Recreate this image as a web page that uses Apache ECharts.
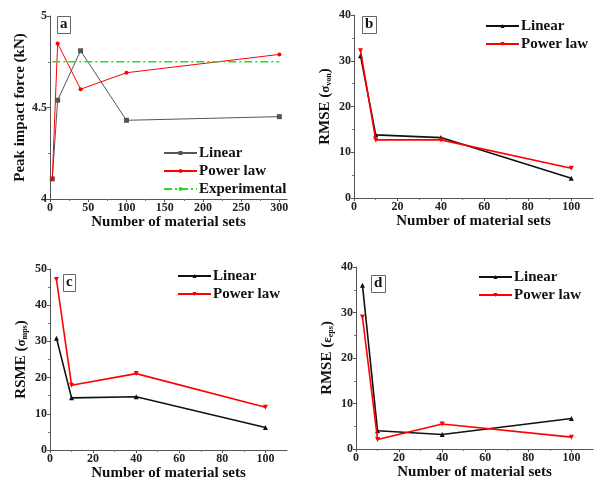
<!DOCTYPE html>
<html>
<head>
<meta charset="utf-8">
<script src="https://cdn.jsdelivr.net/npm/echarts@6/dist/echarts.min.js"></script>
<style>
  html, body { margin: 0; padding: 0; background: #fff; }
  #chart { width: 595px; height: 485px; }
</style>
</head>
<body>
<div id="chart"></div>
<script>
// material set counts
const setsA = [3, 10, 40, 100, 300]
const setsBCD = [3, 10, 40, 100]

// panel a: peak impact force (kN)
const forceLinear = [4.11, 4.54, 4.81, 4.43, 4.45]
const forcePower = [4.11, 4.85, 4.60, 4.69, 4.79]
const forceExperimental = 4.75

// panel b: RMSE (sigma von)
const vonLinear = [31.1, 13.8, 13.2, 4.3]
const vonPower = [32.2, 12.7, 12.7, 6.5]

// panel c: RSME (sigma mps)
const mpsLinear = [30.9, 14.4, 14.7, 6.2]
const mpsPower = [47.1, 17.9, 21.1, 11.8]

// panel d: RMSE (epsilon eps)
const epsLinear = [36.0, 4.0, 3.2, 6.7]
const epsPower = [29.0, 2.1, 5.5, 2.6]

// tick labels
const xTicksA = [0, 50, 100, 150, 200, 250, 300]
const xTicksBCD = [0, 20, 40, 60, 80, 100]
const yTicksA = [4, 4.5, 5]
const yTicks40 = [0, 10, 20, 30, 40]
const yTicks50 = [0, 10, 20, 30, 40, 50]

const font = 'Liberation Serif'
const red = '#ff0000'

const chart = echarts.init(document.getElementById('chart'))

const pairs = (xs, ys) => xs.map((x, i) => [x, ys[i]])

const grids = [
  { left: 50, top: 16, width: 237, height: 183 },
  { left: 354, top: 15, width: 239, height: 183 },
  { left: 50, top: 269, width: 237, height: 181 },
  { left: 356, top: 267, width: 237, height: 182 }
]

const makeX = (i, max, interval, ticks) => ({
  type: 'value', gridIndex: i, min: 0, max, interval,
  name: 'Number of material sets', nameLocation: 'middle', nameGap: 15,
  nameTextStyle: { fontFamily: font, fontWeight: 'bold', fontSize: 15, color: '#111' },
  axisLine: { show: true, onZero: false, lineStyle: { color: '#555', width: 1 } },
  axisTick: { show: true, length: 3, customValues: ticks, lineStyle: { color: '#555' } },
  minorTick: { show: true, splitNumber: 2, length: 2, lineStyle: { color: '#777' } },
  axisLabel: { customValues: ticks, margin: 3, fontFamily: font, fontWeight: 'bold', fontSize: 12, color: '#222' },
  splitLine: { show: false }
})

const makeY = (i, min, max, interval, ticks, name, rich) => ({
  type: 'value', gridIndex: i, min, max, interval,
  name, nameLocation: 'middle', nameGap: 21, nameRotate: 90,
  nameTextStyle: { fontFamily: font, fontWeight: 'bold', fontSize: 15, color: '#111', rich },
  axisLine: { show: true, onZero: false, lineStyle: { color: '#555', width: 1 } },
  axisTick: { show: true, length: 3, customValues: ticks, lineStyle: { color: '#555' } },
  minorTick: { show: true, splitNumber: 2, length: 2, lineStyle: { color: '#777' } },
  axisLabel: { customValues: ticks, margin: 3, fontFamily: font, fontWeight: 'bold', fontSize: 12, color: '#222' },
  splitLine: { show: false }
})

const subRich = {
  m: { fontFamily: font, fontWeight: 'bold', fontSize: 15, color: '#111' },
  g: { fontFamily: font, fontSize: 13, color: '#111' },
  s: { fontFamily: font, fontSize: 8, color: '#111', padding: [6, 0, 0, 0] }
}

const lineSeries = (name, i, xs, ys, color, width, symbol, size, rotate) => ({
  name, type: 'line', xAxisIndex: i, yAxisIndex: i,
  data: pairs(xs, ys),
  symbol, symbolSize: size, symbolRotate: rotate || 0,
  lineStyle: { color, width },
  itemStyle: { color },
  z: name.indexOf('Power') >= 0 ? 3 : 2
})

const legendBox = (names, left, top) => ({
  left, top, orient: 'vertical', padding: 0, itemWidth: 33, itemHeight: 5, itemGap: 2,
  data: names,
  formatter: n => n.split('|')[0],
  textStyle: { fontFamily: font, fontWeight: 'bold', fontSize: 15, color: '#111', lineHeight: 16, padding: [0, 0, 0, -3] },
  selectedMode: false
})

const label = (text, left, top) => ({
  text, left, top,
  borderWidth: 1, borderColor: '#666', padding: [1, 3, 2, 3],
  textStyle: { fontFamily: font, fontWeight: 'bold', fontSize: 15, color: '#111' }
})

const option = {
  animation: false,
  backgroundColor: '#fff',
  title: [
    label('a', 57, 16),
    label('b', 362, 16),
    label('c', 63, 274),
    label('d', 371, 275)
  ],
  legend: [
    legendBox(['Linear|a', 'Power law|a', 'Experimental|a'], 163, 145),
    legendBox(['Linear|b', 'Power law|b'], 485, 18),
    legendBox(['Linear|c', 'Power law|c'], 177, 268),
    legendBox(['Linear|d', 'Power law|d'], 478, 269)
  ],
  grid: grids,
  xAxis: [
    makeX(0, 310, 50, xTicksA),
    makeX(1, 110, 20, xTicksBCD),
    makeX(2, 110, 20, xTicksBCD),
    makeX(3, 110, 20, xTicksBCD)
  ],
  yAxis: [
    makeY(0, 4, 5, 0.5, yTicksA, 'Peak impact force (kN)'),
    makeY(1, 0, 40, 10, yTicks40, '{m|RMSE (}{g|σ}{s|von}{m|)}', subRich),
    makeY(2, 0, 50, 10, yTicks50, '{m|RSME (}{g|σ}{s|mps}{m|)}', subRich),
    makeY(3, 0, 40, 10, yTicks40, '{m|RMSE (}{g|ε}{s|eps}{m|)}', subRich)
  ],
  series: [
    lineSeries('Linear|a', 0, setsA, forceLinear, '#555', 1, 'rect', 5),
    lineSeries('Power law|a', 0, setsA, forcePower, red, 1, 'circle', 4),
    {
      name: 'Experimental|a', type: 'line', xAxisIndex: 0, yAxisIndex: 0,
      data: [[setsA[0], forceExperimental], [setsA[setsA.length - 1], forceExperimental]],
      symbol: 'none',
      lineStyle: { color: '#22dd22', width: 1.3, type: [8, 3, 2, 3] },
      itemStyle: { color: '#22dd22' }
    },
    lineSeries('Linear|b', 1, setsBCD, vonLinear, '#111', 1.6, 'triangle', 5),
    lineSeries('Power law|b', 1, setsBCD, vonPower, red, 1.6, 'triangle', 5, 180),
    lineSeries('Linear|c', 2, setsBCD, mpsLinear, '#111', 1.6, 'triangle', 5),
    lineSeries('Power law|c', 2, setsBCD, mpsPower, red, 1.6, 'triangle', 5, 180),
    lineSeries('Linear|d', 3, setsBCD, epsLinear, '#111', 1.6, 'triangle', 5),
    lineSeries('Power law|d', 3, setsBCD, epsPower, red, 1.6, 'triangle', 5, 180)
  ]
}

chart.setOption(option)
</script>
</body>
</html>
